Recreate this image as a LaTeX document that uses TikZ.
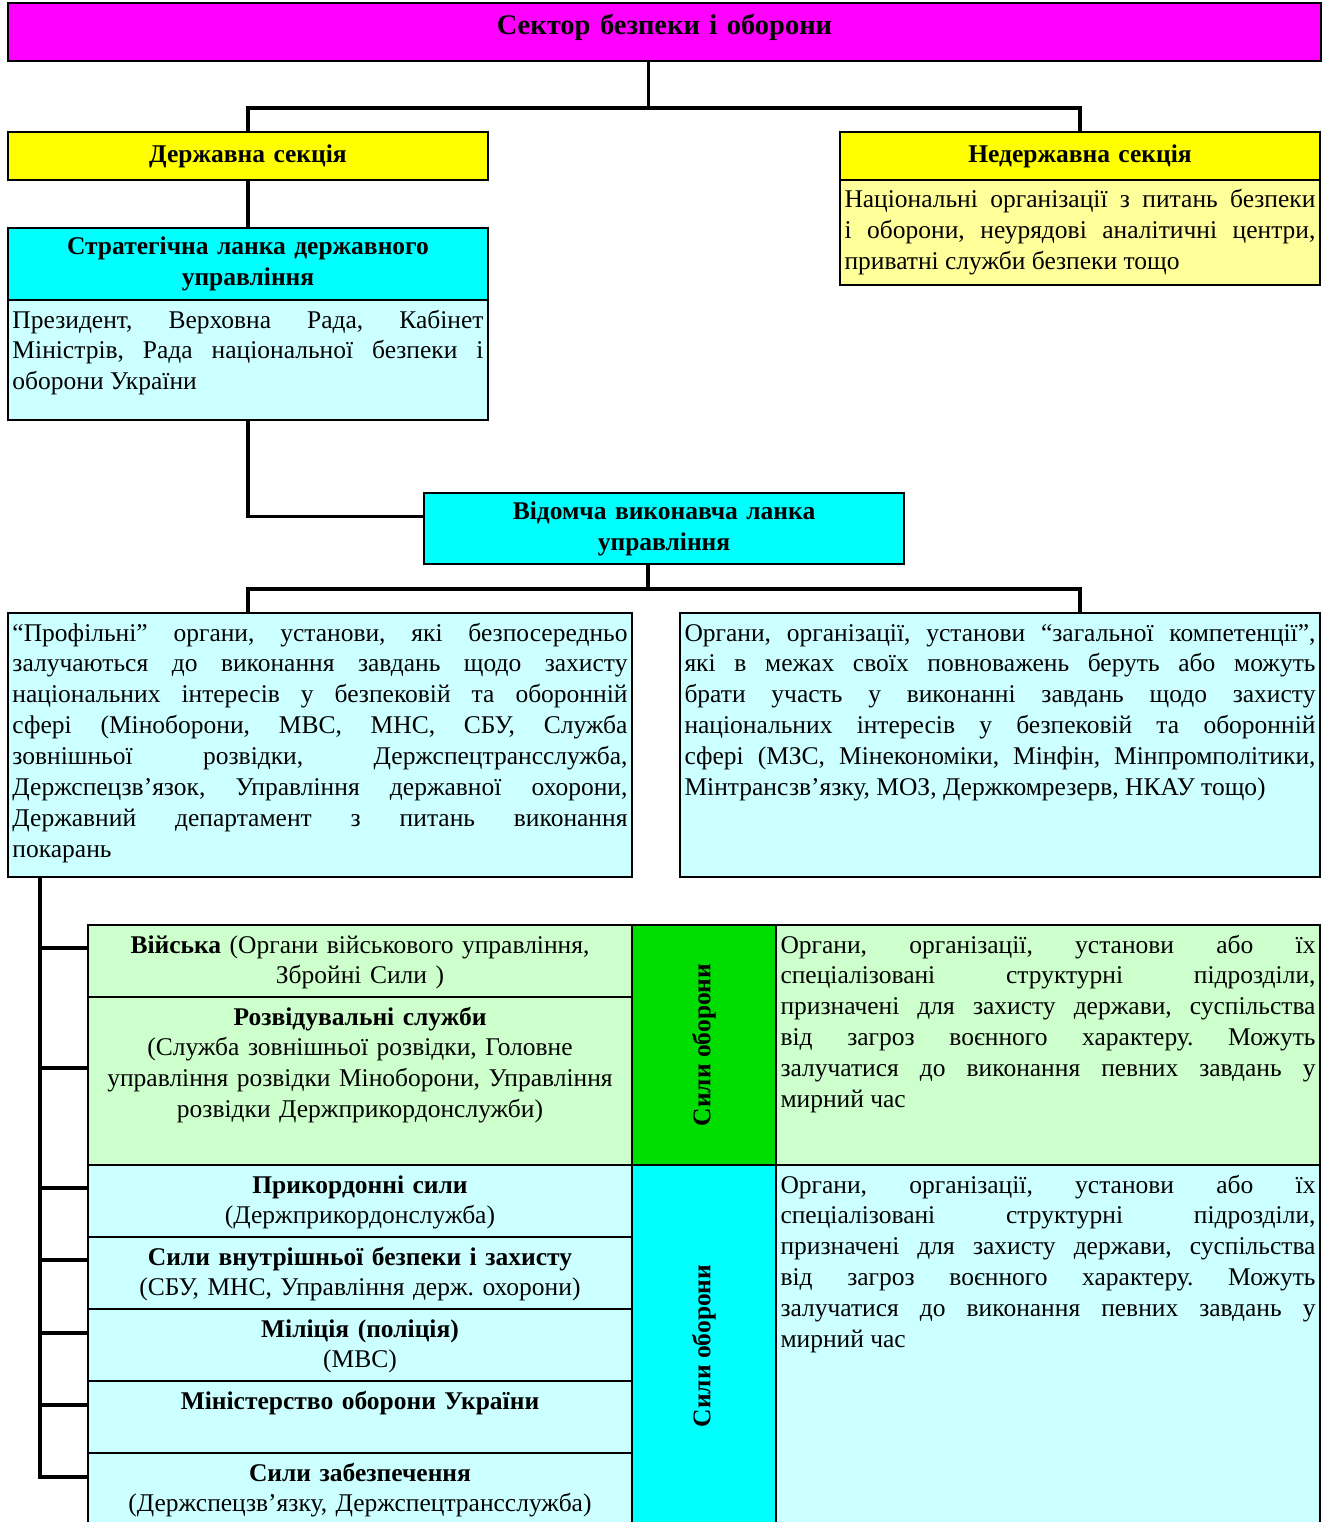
\documentclass[tikz,border=0pt]{standalone}
\usepackage{fontspec}
\usepackage{graphicx}
\setmainfont{Liberation Serif}
\hyphenpenalty=10000
\exhyphenpenalty=10000
\tolerance=9999
\frenchspacing

\definecolor{magentabox}{HTML}{FF00FF}
\definecolor{yellowbox}{HTML}{FFFF00}
\definecolor{paleyellow}{HTML}{FFFF99}
\definecolor{cyanbox}{HTML}{00FFFF}
\definecolor{palecyan}{HTML}{CCFFFF}
\definecolor{greenbox}{HTML}{00DD00}
\definecolor{palegreen}{HTML}{CCFFCC}

\newcommand{\bodysize}{\fontsize{25.5}{30.9}\selectfont}

\tikzset{
  conn/.style={line width=3.5pt},
  frame/.style={draw=black, line width=1.5pt, anchor=north west, outer sep=0pt, inner xsep=4.5pt, inner ysep=7pt},
  headbox/.style={frame, font=\bodysize\bfseries, align=center},
  bodybox/.style={frame, align=justify, text height=21pt},
  cellbox/.style={frame, align=center, text width=535pt, text height=21pt},
}

\begin{document}
\begin{tikzpicture}[x=1pt,y=-1pt,font=\bodysize]
    \useasboundingbox (0,0) rectangle (1329,1522);
    \node[headbox, fill=magentabox, text width=1304pt, text height=25pt, text depth=19pt, font=\fontsize{28.5}{31}\selectfont\bfseries] (sector) at (8,3) {Сектор безпеки і оборони};
    \node[headbox, fill=yellowbox, text width=471pt, minimum height=48pt] (derzh) at (8,132) {Державна секція};
    \node[headbox, fill=yellowbox, text width=471pt, minimum height=48pt] (nederzh) at (840,132) {Недержавна секція};
    \node[bodybox, fill=paleyellow, text width=471pt, text depth=70pt] (nederzhtxt) at (nederzh.south west) {Національні організації з питань безпеки\linebreak і оборони, неурядові аналітичні центри,\linebreak приватні служби безпеки тощо};
    \node[headbox, fill=cyanbox, text width=471pt, minimum height=72pt] (strat) at (8,228) {Стратегічна ланка державного\\ управління};
    \node[bodybox, fill=palecyan, text width=471pt, text depth=85pt] (strattxt) at (strat.south west) {Президент, Верховна Рада, Кабінет\linebreak Міністрів, Рада національної безпеки і\linebreak оборони України};
    \node[headbox, fill=cyanbox, text width=471pt, minimum height=71pt] (vidom) at (424,493) {Відомча виконавча ланка\\ управління};
    \node[bodybox, fill=palecyan, text width=615pt, text depth=229pt] (profil) at (8,613) {“Профільні” органи, установи, які безпосередньо\linebreak залучаються до виконання завдань щодо захисту\linebreak національних інтересів у безпековій та оборонній\linebreak сфері (Міноборони, МВС, МНС, СБУ, Служба\linebreak зовнішньої розвідки, Держспецтрансслужба,\linebreak Держспецзв’язок, Управління державної охорони,\linebreak Державний департамент з питань виконання\linebreak покарань};
    \node[bodybox, fill=palecyan, text width=631pt, text depth=229pt] (zagal) at (680,613) {Органи, організації, установи “загальної компетенції”,\linebreak які в межах своїх повноважень беруть або можуть\linebreak брати участь у виконанні завдань щодо захисту\linebreak національних інтересів у безпековій та оборонній\linebreak сфері (МЗС, Мінекономіки, Мінфін, Мінпромполітики,\linebreak Мінтрансзв’язку, МОЗ, Держкомрезерв, НКАУ тощо)};
    \node[cellbox, fill=palegreen, text depth=37pt] (vijska) at (88,925) {\textbf{Війська} (Органи військового управління,\\ Збройні Сили )};
    \node[cellbox, fill=palegreen, text depth=133pt] (rozvid) at (vijska.south west) {\textbf{Розвідувальні служби}\\ (Служба зовнішньої розвідки, Головне\\ управління розвідки Міноборони, Управління\\ розвідки Держприкордонслужби)};
    \node[cellbox, fill=palecyan, text depth=37pt] (prykord) at (rozvid.south west) {\textbf{Прикордонні сили}\\ (Держприкордонслужба)};
    \node[cellbox, fill=palecyan, text depth=37pt] (vnutr) at (prykord.south west) {\textbf{Сили внутрішньої безпеки і захисту}\\ (СБУ, МНС, Управління держ. охорони)};
    \node[cellbox, fill=palecyan, text depth=37pt] (milic) at (vnutr.south west) {\textbf{Міліція (поліція)}\\ (МВС)};
    \node[cellbox, fill=palecyan, text depth=37pt] (minobor) at (milic.south west) {\textbf{Міністерство оборони України}};
    \node[cellbox, fill=palecyan, text depth=39pt] (zabezp) at (minobor.south west) {\textbf{Сили забезпечення}\\ (Держспецзв’язку, Держспецтрансслужба)};
    \node[frame, fill=greenbox, minimum width=144pt, minimum height=240pt] (syly1) at (vijska.north east) {\rotatebox{90}{\bfseries Сили оборони}};
    \node[frame, fill=cyanbox, minimum width=144pt, minimum height=362pt] (syly2) at (syly1.south west) {\rotatebox{90}{\bfseries Сили оборони}};
    \node[bodybox, fill=palegreen, text width=535pt, text depth=205pt] (opys1) at (syly1.north east) {Органи, організації, установи або їх\linebreak спеціалізовані структурні підрозділи,\linebreak призначені для захисту держави, суспільства\linebreak від загроз воєнного характеру. Можуть\linebreak залучатися до виконання певних завдань у\linebreak мирний час};
    \node[bodybox, fill=palecyan, text width=535pt, text depth=327pt] (opys2) at (syly2.north east) {Органи, організації, установи або їх\linebreak спеціалізовані структурні підрозділи,\linebreak призначені для захисту держави, суспільства\linebreak від загроз воєнного характеру. Можуть\linebreak залучатися до виконання певних завдань у\linebreak мирний час};
    \draw[conn] ([xshift=-16pt]sector.south) -- ++(0,47) -| (derzh.north);
    \draw[conn] ([xshift=-16pt]sector.south) -- ++(0,47) -| (nederzh.north);
    \draw[conn] (derzh.south) -- (strat.north);
    \draw[conn] (strattxt.south) |- ([yshift=12pt]vidom.west);
    \draw[conn] ([xshift=-16pt]vidom.south) -- ++(0,25) -| (profil.north -| derzh.south);
    \draw[conn] ([xshift=-16pt]vidom.south) -- ++(0,25) -| (zagal.north -| nederzh.south);
    \coordinate (trunk) at ([xshift=32pt]profil.south west);
    \coordinate (tvijska) at ([yshift=-23pt]vijska.north west);
    \coordinate (trozvid) at ([yshift=-71pt]rozvid.north west);
    \coordinate (tprykord) at ([yshift=-23pt]prykord.north west);
    \coordinate (tvnutr) at ([yshift=-23pt]vnutr.north west);
    \coordinate (tmilic) at ([yshift=-24pt]milic.north west);
    \coordinate (tminobor) at ([yshift=-24pt]minobor.north west);
    \coordinate (tzabezp) at ([yshift=-24pt]zabezp.north west);
    \draw[conn] (trunk) |- (tzabezp);
    \draw[conn] (tvijska -| trunk) -- (tvijska);
    \draw[conn] (trozvid -| trunk) -- (trozvid);
    \draw[conn] (tprykord -| trunk) -- (tprykord);
    \draw[conn] (tvnutr -| trunk) -- (tvnutr);
    \draw[conn] (tmilic -| trunk) -- (tmilic);
    \draw[conn] (tminobor -| trunk) -- (tminobor);
\end{tikzpicture}
\end{document}
